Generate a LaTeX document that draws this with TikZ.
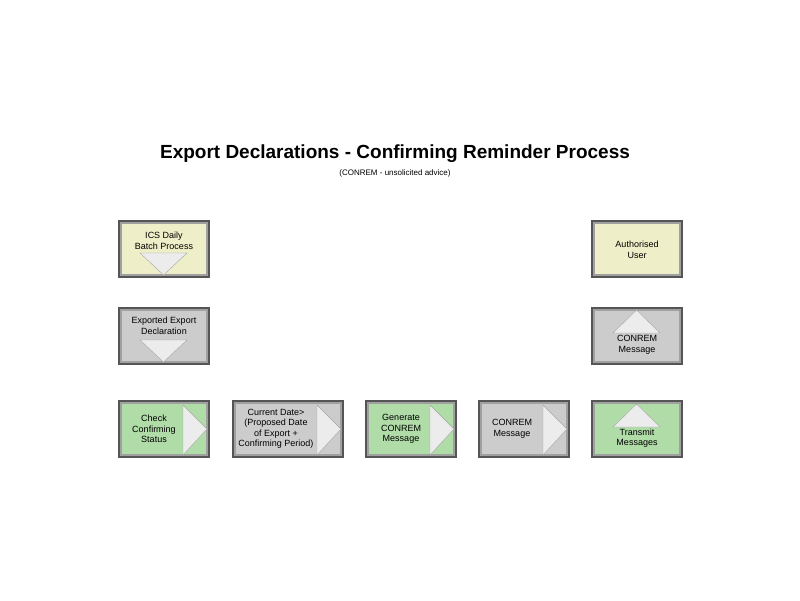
\documentclass[tikz,border=0pt]{standalone}
\usepackage{fontspec}
\setmainfont{Liberation Sans}
\definecolor{batchyellow}{RGB}{238,238,200}
\definecolor{stepgray}{RGB}{204,204,204}
\definecolor{stepgreen}{RGB}{176,220,168}
\definecolor{framedark}{RGB}{85,85,85}
\definecolor{framemid}{RGB}{160,160,160}
\tikzset{
  frameouter/.style={fill=framedark, draw=none},
  framemiddle/.style={fill=framemid, draw=none},
  tri/.style={draw=gray!70, fill=white!85!gray, line width=0.4pt},
  boxtext/.style={font=\fontsize{9}{10.5}\selectfont, align=center, text=black}
}
% box: name, x1, y1, x2, y2, colour
\newcommand{\procbox}[6]{%
  \fill[frameouter] (#2,#3) rectangle (#4,#5);
  \fill[framemiddle] (#2+2,#3+2) rectangle (#4-2,#5-2);
  \fill[#6] (#2+4,#3+4) rectangle (#4-4,#5-4);
  \coordinate (#1) at ({(#2+#4)/2},{(#3+#5)/2});
}
\begin{document}
\begin{tikzpicture}[x=1pt,y=-1pt]
\useasboundingbox (0,0) rectangle (800,600);
\fill[white] (0,0) rectangle (800,600);

% title
\node[font=\bfseries\fontsize{19}{22}\selectfont] (title) at (395,154) {Export Declarations - Confirming Reminder Process};
\node[font=\fontsize{8}{10}\selectfont] (subtitle) at (395,173) {(CONREM - unsolicited advice)};

% left column
\procbox{batch}{118}{220}{210}{278}{batchyellow}
\draw[tri] (140,253) -- (187,253) -- (163.5,275) -- cycle;
\node[boxtext] (batchtext) at (164,241) {ICS Daily\\Batch Process};

\procbox{exported}{118}{307}{210}{365}{stepgray}
\draw[tri] (140,340) -- (187,340) -- (163.5,362) -- cycle;
\node[boxtext] (exportedtext) at (164,326) {Exported Export\\Declaration};

% bottom row
\procbox{check}{118}{400}{210}{458}{stepgreen}
\draw[tri] (183,405) -- (207,429) -- (183,455) -- cycle;
\node[boxtext] (checktext) at (154,429) {Check\\Confirming\\Status};

\procbox{date}{232}{400}{344}{458}{stepgray}
\draw[tri] (317,405) -- (341,429) -- (317,455) -- cycle;
\node[boxtext] (datetext) at (276,429) {Current Date>\\(Proposed Date\\of Export +\\Confirming Period)};

\procbox{generate}{365}{400}{457}{458}{stepgreen}
\draw[tri] (430,405) -- (454,429) -- (430,455) -- cycle;
\node[boxtext] (generatetext) at (401,429) {Generate\\CONREM\\Message};

\procbox{message}{478}{400}{570}{458}{stepgray}
\draw[tri] (543,405) -- (567,429) -- (543,455) -- cycle;
\node[boxtext] (messagetext) at (512,429) {CONREM\\Message};

\procbox{transmit}{591}{400}{683}{458}{stepgreen}
\draw[tri] (613,427) -- (660,427) -- (636.5,404) -- cycle;
\node[boxtext] (transmittext) at (637,438) {Transmit\\Messages};

% right column
\procbox{user}{591}{220}{683}{278}{batchyellow}
\node[boxtext] (usertext) at (637,250) {Authorised\\User};

\procbox{conrem}{591}{307}{683}{365}{stepgray}
\draw[tri] (613,333) -- (660,333) -- (636.5,310) -- cycle;
\node[boxtext] (conremtext) at (637,345) {CONREM\\Message};

\end{tikzpicture}
\end{document}
